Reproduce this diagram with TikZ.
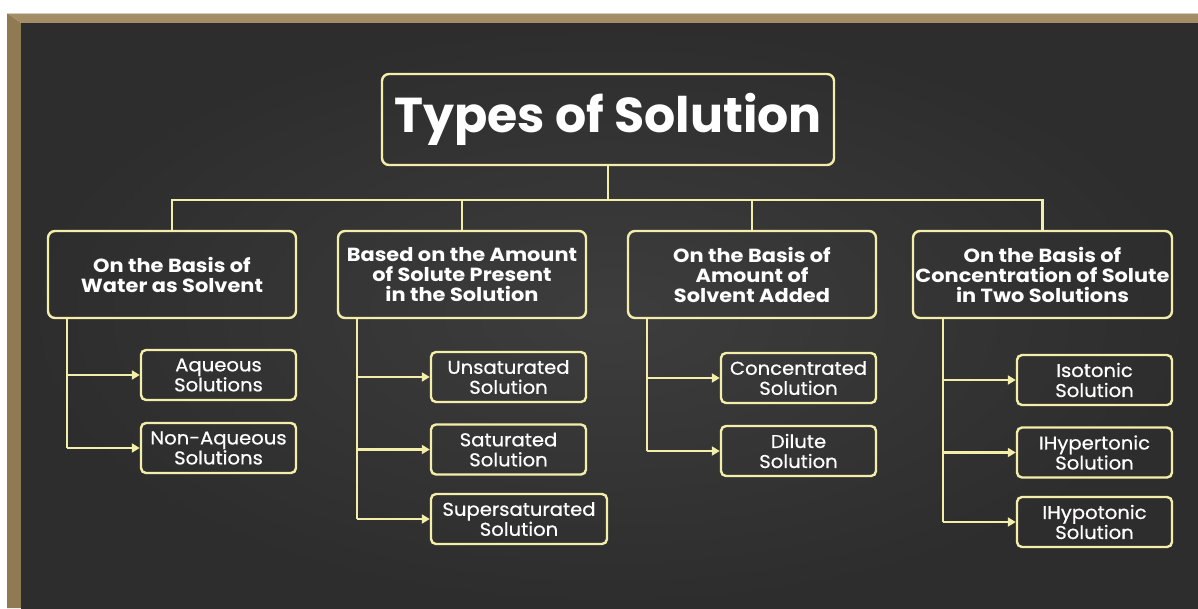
\documentclass[tikz,border=0pt]{standalone}
\usepackage{fontspec}
\setmainfont{Poppins}
\newfontfamily\catfont[FakeStretch=1.1]{Poppins}
\newfontfamily\subfont[FakeStretch=1.06,FakeBold=0.6]{Poppins}
\usetikzlibrary{arrows.meta,calc}
\definecolor{chalk}{HTML}{F3EFAA}
\definecolor{boardout}{HTML}{2D2D2D}
\definecolor{boardin}{HTML}{3D3D3D}
\definecolor{woodtop}{HTML}{A38D66}
\definecolor{woodleft}{HTML}{8F7A52}
\tikzset{
  box/.style={draw=chalk, line width=2.4pt, rounded corners=7pt, align=center, text=white, inner sep=0pt},
  titlebox/.style={box, minimum width=452pt, minimum height=91pt, font=\fontsize{49}{52}\selectfont\bfseries},
  catbox/.style={box, minimum width=248pt, minimum height=87pt, font=\catfont\fontsize{19}{20}\selectfont\bfseries},
  subbox/.style={box, rounded corners=5pt, minimum width=155pt, minimum height=50pt, font=\subfont\fontsize{18.5}{20}\selectfont},
  conn/.style={draw=chalk, line width=2.4pt},
  arr/.style={conn, -{Triangle[length=8pt,width=9pt]}}
}
\begin{document}
\begin{tikzpicture}[x=1pt,y=-1pt]
\useasboundingbox (0,0) rectangle (1198,608);
\fill[white] (0,0) rectangle (1198,608);
% frame
\fill[woodleft] (7,13) -- (21,23) -- (21,608) -- (7,608) -- cycle;
\fill[woodtop] (7,13) -- (1198,13) -- (1198,23) -- (21,23) -- cycle;
\draw[color={rgb,255:red,215;green,205;blue,190}, line width=0.8pt] (7,13.4) -- (1198,13.4);
% board
\shade[inner color=boardin, outer color=boardout] (21,23) rectangle (1198,608);

\node[titlebox] (title) at (608,119.5) {Types of Solution};

\node[catbox] (c1) at (172,274.5) {On the Basis of\\Water as Solvent};
\node[catbox] (c2) at (462,274.5) {Based on the Amount\\of Solute Present\\in the Solution};
\node[catbox] (c3) at (752,274.5) {On the Basis of\\Amount of\\Solvent Added};
\node[catbox, minimum width=259pt] (c4) at (1042.5,274.5) {On the Basis of\\Concentration of Solute\\in Two Solutions};

\node[subbox] (s11) at (218.5,375) {Aqueous\\Solutions};
\node[subbox] (s12) at (218.5,448) {Non-Aqueous\\Solutions};

\node[subbox] (s21) at (508.5,377) {Unsaturated\\Solution};
\node[subbox] (s22) at (508.5,449.5) {Saturated\\Solution};
\node[subbox, minimum width=176pt] (s23) at (519,519) {Supersaturated\\Solution};

\node[subbox] (s31) at (798.5,378) {Concentrated\\Solution};
\node[subbox] (s32) at (798.5,451) {Dilute\\Solution};

\node[subbox] (s41) at (1094.5,380) {Isotonic\\Solution};
\node[subbox] (s42) at (1094.5,452.5) {IHypertonic\\Solution};
\node[subbox] (s43) at (1094.5,522) {IHypotonic\\Solution};

% top tree
\coordinate (bus) at (608,200);
\draw[conn] (title.south) -- (bus);
\draw[conn] (c1.north) |- (bus) -| (c4.north);
\draw[conn] (c2.north) -- (c2.north |- bus);
\draw[conn] (c3.north) -- (c3.north |- bus);

% trunks
\coordinate (t1) at ([xshift=20pt]c1.south west);
\coordinate (t2) at ([xshift=20pt]c2.south west);
\coordinate (t3) at ([xshift=20pt]c3.south west);
\coordinate (t4) at ([xshift=31pt]c4.south west);
\draw[conn] (t1) -- (t1 |- s12.west);
\draw[conn] (t2) -- (t2 |- s23.west);
\draw[conn] (t3) -- (t3 |- s32.west);
\draw[conn] (t4) -- (t4 |- s43.west);
\foreach \t/\s in {t1/s11,t1/s12,t2/s21,t2/s22,t2/s23,t3/s31,t3/s32,t4/s41,t4/s42,t4/s43}{
  \draw[arr] (\t |- \s.west) -- (\s.west);
}
\end{tikzpicture}
\end{document}
